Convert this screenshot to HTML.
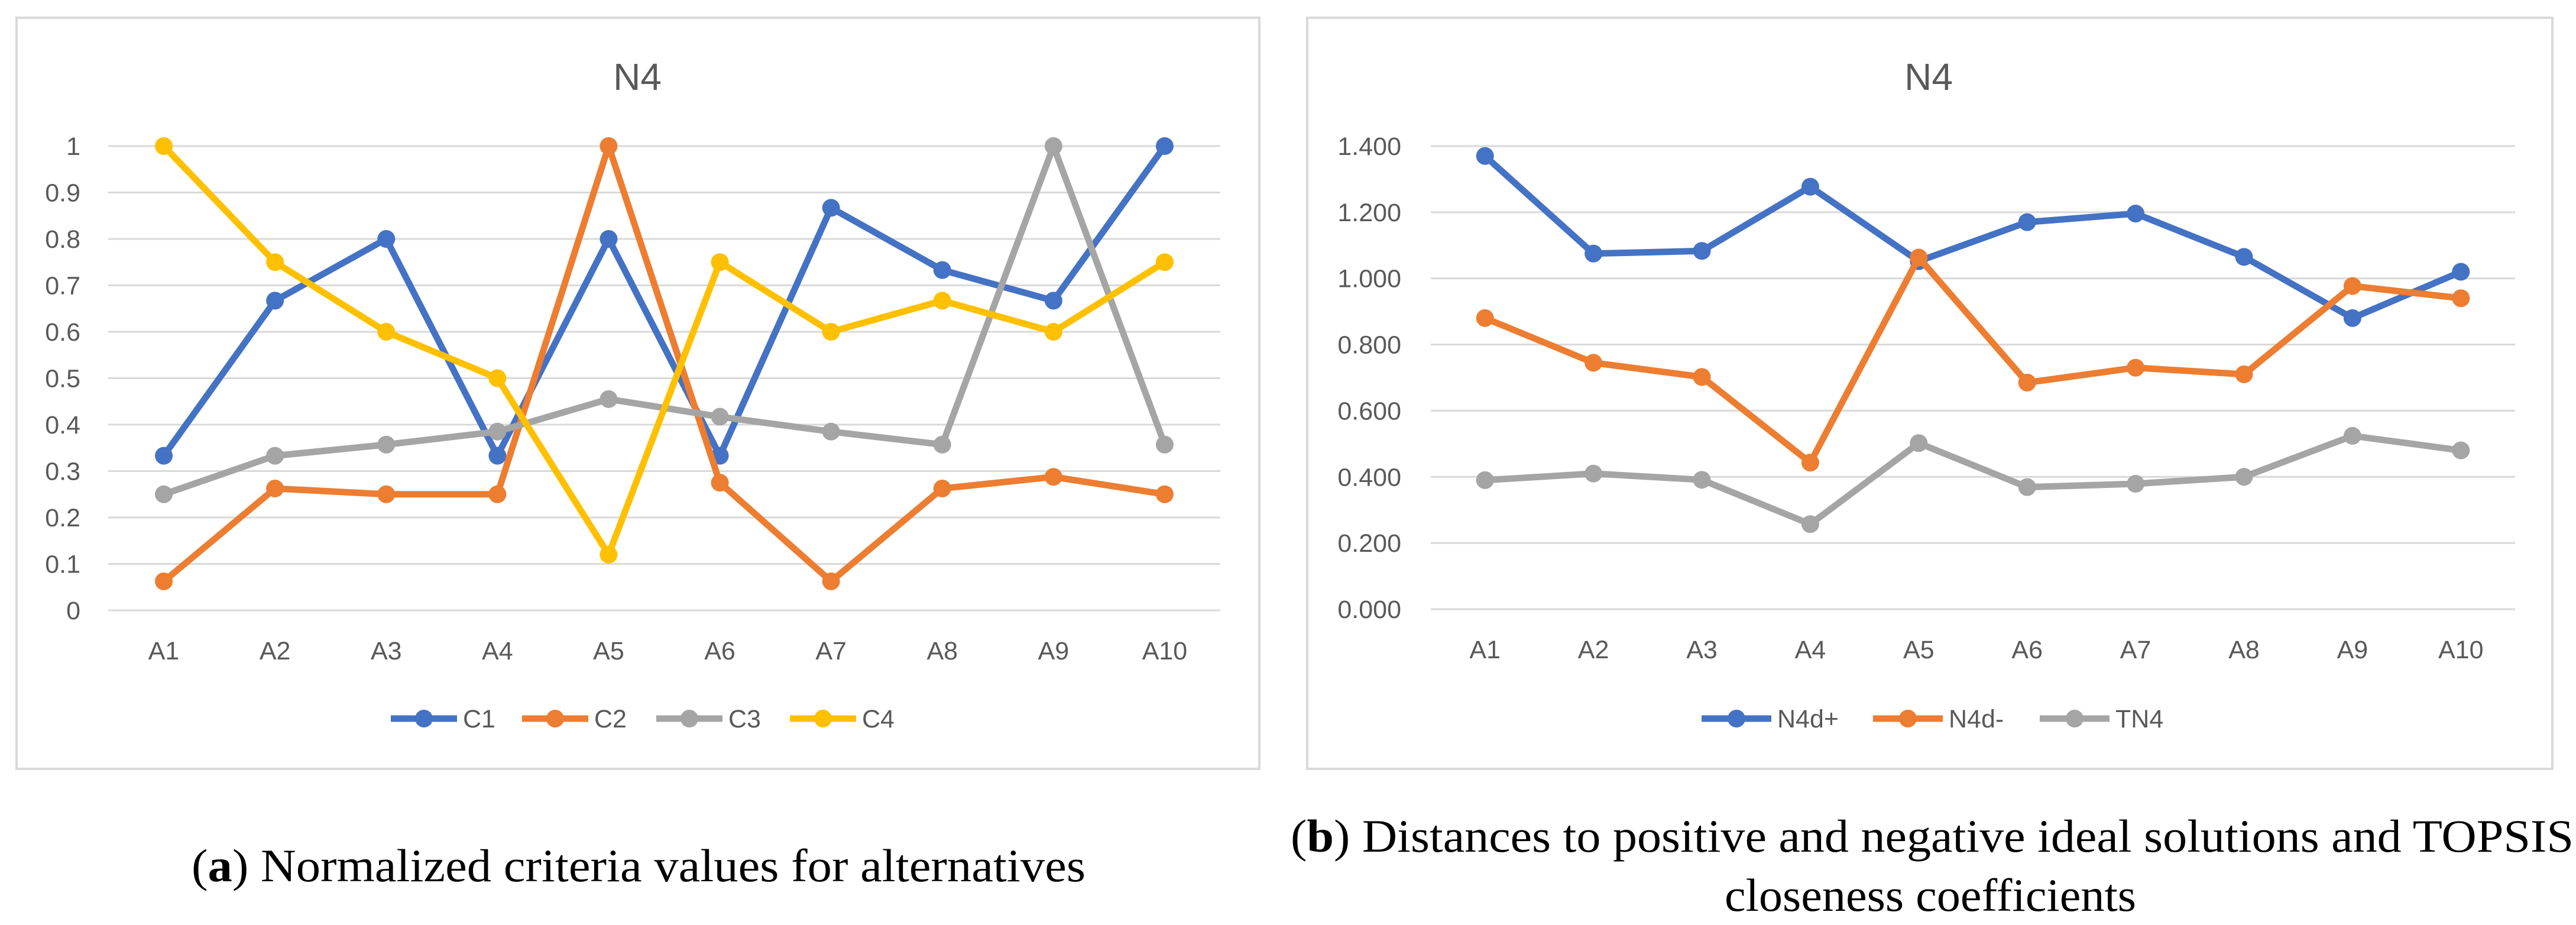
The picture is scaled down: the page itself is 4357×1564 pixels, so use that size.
<!DOCTYPE html>
<html><head><meta charset="utf-8"><style>
html,body{margin:0;padding:0;background:#fff;}
svg{display:block;font-family:"Liberation Sans",sans-serif;}
</style></head><body>
<svg id="s" width="4357" height="1564" viewBox="0 0 4357 1564" xmlns="http://www.w3.org/2000/svg">
<rect x="28" y="30" width="2102" height="1270" fill="#fff" stroke="#d9d9d9" stroke-width="4"/>
<rect x="2211" y="30" width="2106" height="1270" fill="#fff" stroke="#d9d9d9" stroke-width="4"/>
<text x="1078" y="152" font-size="64" fill="#595959" text-anchor="middle">N4</text>
<text x="3262" y="152" font-size="64" fill="#595959" text-anchor="middle">N4</text>
<text x="1080" y="1490" font-size="78" font-family="Liberation Serif, serif" text-anchor="middle" fill="#000" textLength="1512" lengthAdjust="spacingAndGlyphs">(<tspan font-weight="bold">a</tspan>) Normalized criteria values for alternatives</text>
<text x="3268" y="1440" font-size="78" font-family="Liberation Serif, serif" text-anchor="middle" fill="#000" textLength="2170" lengthAdjust="spacingAndGlyphs">(<tspan font-weight="bold">b</tspan>) Distances to positive and negative ideal solutions and TOPSIS</text>
<text x="3265" y="1540" font-size="78" font-family="Liberation Serif, serif" text-anchor="middle" fill="#000" textLength="696" lengthAdjust="spacingAndGlyphs">closeness coefficients</text>
<g id="ga"></g><g id="gb"></g>
</svg>
<script>
const categories = ["A1","A2","A3","A4","A5","A6","A7","A8","A9","A10"];
const aTicks = ["0","0.1","0.2","0.3","0.4","0.5","0.6","0.7","0.8","0.9","1"];
const aC1 = [0.333,0.667,0.8,0.333,0.8,0.333,0.867,0.733,0.667,1];
const aC2 = [0.0625,0.2625,0.25,0.25,1,0.275,0.0625,0.2625,0.2875,0.25];
const aC3 = [0.25,0.333,0.357,0.385,0.455,0.417,0.385,0.357,1,0.357];
const aC4 = [1,0.75,0.6,0.5,0.12,0.75,0.6,0.667,0.6,0.75];
const bTicks = ["0.000","0.200","0.400","0.600","0.800","1.000","1.200","1.400"];
const bDplus = [1.37,1.075,1.083,1.277,1.052,1.17,1.196,1.065,0.88,1.02];
const bDminus = [0.88,0.745,0.702,0.443,1.063,0.685,0.73,0.71,0.977,0.94];
const bTN4 = [0.39,0.41,0.391,0.257,0.502,0.369,0.379,0.4,0.524,0.48];

const NS="http://www.w3.org/2000/svg";
function mk(tag,attrs,parent){const e=document.createElementNS(NS,tag);for(const k in attrs)e.setAttribute(k,attrs[k]);parent.appendChild(e);return e;}

function chart(g,cfg){
  const x0=cfg.x0,x1=cfg.x1,yTop=cfg.yTop,yBot=cfg.yBot,max=cfg.max;
  const step=(x1-x0)/categories.length;
  const xs=i=>x0+step*(i+0.5);
  const ys=v=>yBot-(v/max)*(yBot-yTop);
  cfg.ticks.forEach((t,i)=>{
    const v=parseFloat(t);
    const l=mk('line',{x1:x0,x2:x1,y1:ys(v),y2:ys(v),stroke:'#d9d9d9','stroke-width':3},g);
    
    
    const tx=mk('text',{x:cfg.labelX,y:ys(v)+15,'font-size':43,fill:'#595959','text-anchor':'end'},g);
    tx.textContent=t;
    
    
  });
  categories.forEach((c,i)=>{
    const tx=mk('text',{x:xs(i),y:yBot+83,'font-size':43,fill:'#595959','text-anchor':'middle'},g);
    tx.textContent=c;
    
    
  });
  cfg.series.forEach(s=>{
    const pts=s.vals.map((v,i)=>xs(i)+','+ys(v)).join(' ');
    const pl=mk('polyline',{points:pts,fill:'none',stroke:s.color,'stroke-width':11,'stroke-linejoin':'round'},g);
    
    
    s.vals.forEach((v,i)=>{
      const c=mk('circle',{cx:xs(i),cy:ys(v),r:15,fill:s.color},g);
      
      
    });
  });
  cfg.series.forEach((s,k)=>{
    const lx=cfg.legX[k];
    const lg=mk('g',{},g);
    
    
    mk('line',{x1:lx,x2:lx+cfg.legLen,y1:1215,y2:1215,stroke:s.color,'stroke-width':11},lg);
    mk('circle',{cx:lx+cfg.legLen/2,cy:1215,r:15,fill:s.color},lg);
    const t=mk('text',{x:lx+cfg.legLen+10,y:1230,'font-size':43,fill:'#595959'},lg);
    t.textContent=s.name;
  });
}
chart(document.getElementById('ga'),{x0:183,x1:2064,yTop:247,yBot:1032,max:1,labelX:136,ticks:aTicks,
  legX:[661,883,1110,1336],legLen:112,
  series:[{name:'C1',vals:aC1,color:'#4472C4'},{name:'C2',vals:aC2,color:'#ED7D31'},{name:'C3',vals:aC3,color:'#A5A5A5'},{name:'C4',vals:aC4,color:'#FFC000'}]});
chart(document.getElementById('gb'),{x0:2420,x1:4254,yTop:247,yBot:1030,max:1.4,labelX:2370,ticks:bTicks,
  legX:[2878,3168,3450],legLen:118,
  series:[{name:'N4d+',vals:bDplus,color:'#4472C4'},{name:'N4d-',vals:bDminus,color:'#ED7D31'},{name:'TN4',vals:bTN4,color:'#A5A5A5'}]});
</script>
</body></html>
